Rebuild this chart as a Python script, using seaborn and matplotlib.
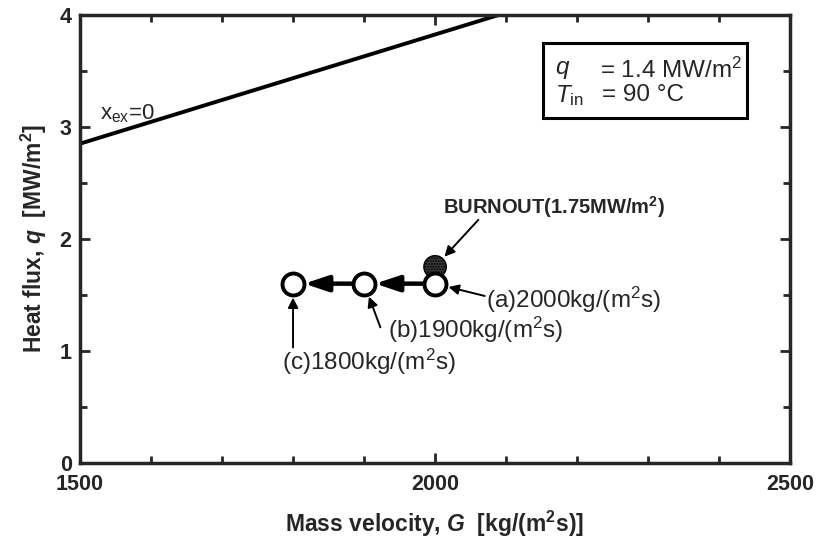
import matplotlib
matplotlib.use("Agg")
import matplotlib.pyplot as plt
from matplotlib.patches import Rectangle
import seaborn as sns
import pandas as pd

# ---- data ----
G_points = [2000, 1900, 1800]
q_points = [1.6, 1.6, 1.6]
point_labels = ["(a)2000kg/(m$^2$s)", "(b)1900kg/(m$^2$s)", "(c)1800kg/(m$^2$s)"]
G_burnout = [2000]
q_burnout = [1.75]
G_xex0 = [1500, 2090]
q_xex0 = [2.85, 4.0]
x_ticks = [1500, 2000, 2500]
y_ticks = [0, 1, 2, 3, 4]

sns.set_style("ticks")
plt.rcParams['font.family'] = ['Liberation Sans', 'DejaVu Sans']
plt.rcParams['mathtext.fontset'] = 'custom'
plt.rcParams['mathtext.rm'] = 'Liberation Sans'
plt.rcParams['mathtext.it'] = 'Liberation Sans:italic'
plt.rcParams['mathtext.bf'] = 'Liberation Sans:bold'
plt.rcParams['mathtext.bfit'] = 'Liberation Sans:italic:bold'

fig = plt.figure(figsize=(8.2, 5.51), dpi=100)
ax = fig.add_axes([0.0976, 0.160, 0.8659, 0.813])

line_df = pd.DataFrame({"G": G_xex0, "q": q_xex0})
sns.lineplot(data=line_df, x="G", y="q", ax=ax, color="black", lw=2.8, zorder=2)

# arrows between points
for i in range(len(G_points) - 1):
    ax.annotate("", xy=(G_points[i + 1], q_points[i + 1]), xytext=(G_points[i], q_points[i]),
                arrowprops=dict(arrowstyle="-|>,head_length=0.6,head_width=0.2", lw=3.2,
                                color="black", mutation_scale=24, shrinkA=8, shrinkB=8),
                zorder=3)

bdf = pd.DataFrame({"G": G_burnout, "q": q_burnout})
sns.scatterplot(data=bdf, x="G", y="q", ax=ax, s=260, color="#3c3c3c", edgecolor="#000000",
                linewidth=1, hatch="......", zorder=4)

pdf = pd.DataFrame({"G": G_points, "q": q_points})
sns.scatterplot(data=pdf, x="G", y="q", ax=ax, s=250, color="white", edgecolor="black",
                linewidth=2.8, zorder=5)

ax.set_xlim(1500, 2500)
ax.set_ylim(0, 4)
ax.set_xticks(x_ticks)
ax.set_yticks(y_ticks)
ax.set_xticks(range(1500, 2501, 100), minor=True)
ax.set_yticks([0.5, 1.5, 2.5, 3.5], minor=True)
ax.tick_params(which="both", direction="in", top=True, right=True, width=2)
ax.tick_params(which="major", length=7, labelsize=15.5)
ax.tick_params(axis="x", which="major", pad=8)
ax.tick_params(axis="y", which="major", pad=6)
ax.tick_params(which="minor", length=5)
for lab in ax.get_xticklabels() + ax.get_yticklabels():
    lab.set_fontweight("bold")
for sp in ax.spines.values():
    sp.set_linewidth(2.5)
    sp.set_visible(True)

ax.set_xlabel(r"Mass velocity, $\mathbfit{G}$  [kg/(m$^{\mathbf{2}}$s)]", fontsize=16.5,
              fontweight="bold", labelpad=10)
ax.set_ylabel(r"Heat flux, $\mathbfit{q}$  [MW/m$^{\mathbf{2}}$]", fontsize=16.5,
              fontweight="bold", labelpad=8)

# annotations
txt_pos = [(2072, 1.455), (1934, 1.19), (1784, 0.90)]
txt_arrow_start = [(2070, 1.49), (1923, 1.21), (1800, 1.03)]
for (tx, ty), (ax0, ay0), lab, G, q in zip(txt_pos, txt_arrow_start, point_labels, G_points, q_points):
    ax.text(tx, ty, lab, fontsize=17.5, ha="left", va="center")
    ax.annotate("", xy=(G, q), xytext=(ax0, ay0),
                arrowprops=dict(arrowstyle="-|>", lw=1.4, color="black", mutation_scale=15,
                                shrinkA=0, shrinkB=10))

ax.text(2011, 2.28, r"BURNOUT(1.75MW/m$^{\mathbf{2}}$)", fontsize=14.5, fontweight="bold",
        ha="left", va="center")
ax.annotate("", xy=(G_burnout[0], q_burnout[0]), xytext=(2061, 2.17),
            arrowprops=dict(arrowstyle="-|>", lw=1.4, color="black", mutation_scale=15,
                            shrinkA=0, shrinkB=10))

ax.text(1528, 3.12, r"x$_{\rm ex}$=0", fontsize=16, ha="left", va="center")

# condition box
ax.add_patch(Rectangle((0.652, 0.770), 0.287, 0.1675, transform=ax.transAxes,
                       facecolor="white", edgecolor="black", lw=2.2, zorder=6))
ax.text(0.669, 0.877, "$q$", transform=ax.transAxes, fontsize=17.5, ha="left", va="center", zorder=7)
ax.text(0.732, 0.877, "= 1.4 MW/m$^2$", transform=ax.transAxes, fontsize=17.5, ha="left",
        va="center", zorder=7)
ax.text(0.669, 0.821, r"$T_{\rm in}$", transform=ax.transAxes, fontsize=17.5, ha="left",
        va="center", zorder=7)
ax.text(0.735, 0.821, "= 90 \u00b0C", transform=ax.transAxes, fontsize=17.5, ha="left",
        va="center", zorder=7)

fig.savefig("out.png", dpi=100)
